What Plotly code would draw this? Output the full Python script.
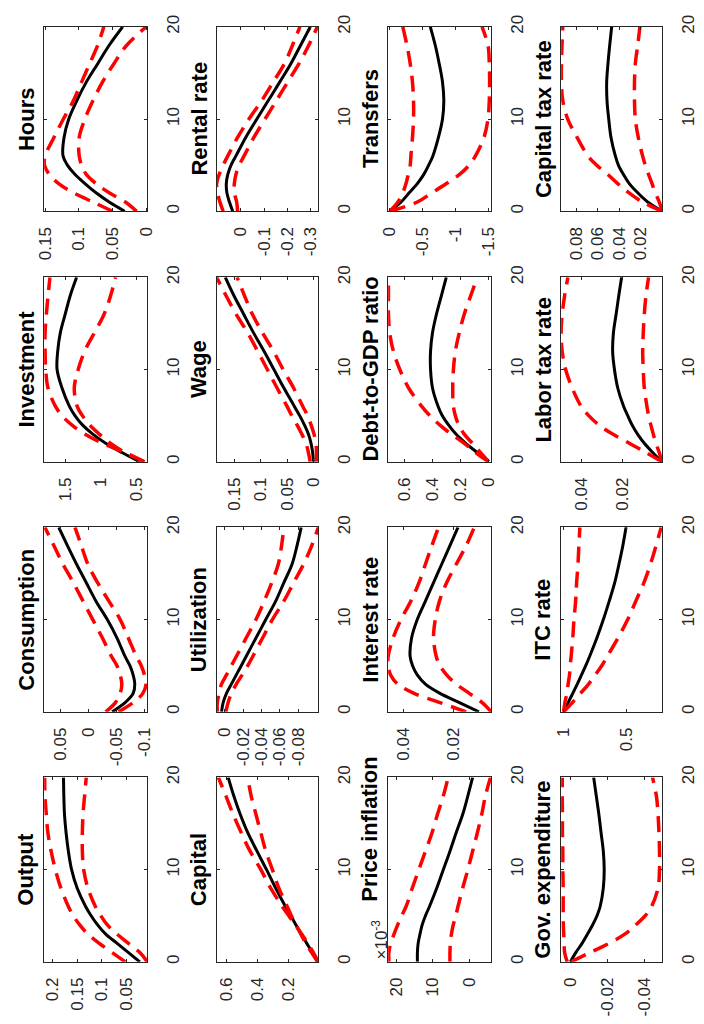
import plotly.graph_objects as go

W, HGT = 704, 1024
H = [0, 1, 2, 3, 4, 5, 6, 8, 10, 12, 14, 16, 18, 20]

hours_med = [0.032, 0.055, 0.0745, 0.091, 0.106, 0.117, 0.1235, 0.122, 0.115, 0.103, 0.089, 0.072, 0.055, 0.035]
hours_hi = [0.050, 0.079, 0.108, 0.130, 0.144, 0.151, 0.150, 0.137, 0.123, 0.108, 0.096, 0.084, 0.072, 0.063]
hours_lo = [0.0144, 0.031, 0.055, 0.0745, 0.089, 0.096, 0.0995, 0.0995, 0.091, 0.079, 0.065, 0.048, 0.029, 0.0]

rent_med = [0.035, 0.049, 0.060, 0.0625, 0.056, 0.042, 0.021, -0.021, -0.069, -0.118, -0.167, -0.215, -0.257, -0.299]
rent_hi = [0.076, 0.090, 0.100, 0.104, 0.093, 0.076, 0.056, 0.014, -0.035, -0.090, -0.139, -0.1875, -0.222, -0.254]
rent_lo = [0.014, 0.018, 0.028, 0.028, 0.021, 0.007, -0.014, -0.056, -0.104, -0.153, -0.201, -0.250, -0.292, -0.329]

trans_med = [0, -0.172, -0.295, -0.418, -0.516, -0.59, -0.654, -0.738, -0.80, -0.82, -0.80, -0.75, -0.69, -0.615]
trans_hi = [0, -0.123, -0.197, -0.246, -0.28, -0.31, -0.32, -0.344, -0.36, -0.36, -0.344, -0.31, -0.26, -0.197]
trans_lo = [0, -0.418, -0.64, -0.86, -1.06, -1.205, -1.30, -1.43, -1.49, -1.51, -1.515, -1.51, -1.49, -1.40]

ktax_med = [0.0005, 0.0138, 0.023, 0.0308, 0.0363, 0.0409, 0.0437, 0.0477, 0.0498, 0.0514, 0.0517, 0.0505, 0.0489, 0.0471]
ktax_hi = [0.0005, 0.0185, 0.031, 0.0415, 0.0508, 0.061, 0.069, 0.079, 0.0877, 0.0923, 0.0935, 0.0935, 0.093, 0.0923]
ktax_lo = [0.0005, 0.0031, 0.0068, 0.0098, 0.013, 0.016, 0.0185, 0.0225, 0.0252, 0.026, 0.026, 0.0252, 0.023, 0.021]

inv_med = [0.455, 0.705, 0.932, 1.114, 1.259, 1.364, 1.441, 1.545, 1.614, 1.605, 1.568, 1.5, 1.43, 1.34]
inv_hi = [0.39, 0.66, 0.977, 1.227, 1.409, 1.545, 1.636, 1.741, 1.773, 1.782, 1.782, 1.764, 1.741, 1.714]
inv_lo = [0.39, 0.659, 0.864, 1.023, 1.159, 1.259, 1.332, 1.373, 1.318, 1.227, 1.09, 0.955, 0.864, 0.795]

wage_med = [0, 0.0013, 0.0044, 0.0094, 0.017, 0.026, 0.036, 0.056, 0.075, 0.094, 0.114, 0.1325, 0.151, 0.1675]
wage_hi = [0.006, 0.0094, 0.014, 0.022, 0.031, 0.041, 0.05, 0.069, 0.0875, 0.106, 0.125, 0.147, 0.166, 0.184]
wage_lo = [-0.006, -0.006, -0.005, -0.0013, 0.0044, 0.011, 0.02, 0.0375, 0.0575, 0.076, 0.097, 0.116, 0.131, 0.145]

debt_med = [0, 0.081, 0.163, 0.233, 0.286, 0.33, 0.36, 0.40, 0.414, 0.414, 0.40, 0.372, 0.337, 0.302]
debt_hi = [0, 0.093, 0.174, 0.267, 0.349, 0.419, 0.477, 0.57, 0.633, 0.679, 0.705, 0.714, 0.714, 0.714]
debt_lo = [0, 0.058, 0.116, 0.174, 0.214, 0.237, 0.251, 0.256, 0.251, 0.237, 0.209, 0.174, 0.128, 0.081]

ltax_med = [0.0005, 0.005, 0.0091, 0.0124, 0.0151, 0.0172, 0.0192, 0.0221, 0.0237, 0.0246, 0.0242, 0.0229, 0.0216, 0.0202]
ltax_hi = [0.0005, 0.0083, 0.0164, 0.0246, 0.0314, 0.0363, 0.040, 0.0444, 0.0476, 0.0493, 0.0498, 0.0493, 0.0481, 0.0465]
ltax_lo = [0.0005, 0.0018, 0.0034, 0.0047, 0.0059, 0.007, 0.0078, 0.0091, 0.0096, 0.0099, 0.0096, 0.0091, 0.0083, 0.007]

cons_med = [-0.0423, -0.0654, -0.0798, -0.0827, -0.0798, -0.074, -0.0654, -0.051, -0.0337, -0.0135, 0.0038, 0.0211, 0.0373, 0.0529]
cons_hi = [-0.0308, -0.0481, -0.0567, -0.0596, -0.0567, -0.051, -0.0412, -0.025, -0.0077, 0.0096, 0.0269, 0.0454, 0.0615, 0.0777]
cons_lo = [-0.0539, -0.0798, -0.0971, -0.1029, -0.10, -0.0943, -0.0856, -0.0712, -0.0567, -0.0365, -0.0164, 0.001, 0.0125, 0.024]

util_med = [0.0036, 0.0018, -0.0018, -0.0071, -0.0125, -0.0179, -0.0232, -0.0339, -0.0446, -0.0554, -0.0643, -0.0732, -0.0786, -0.0832]
util_hi = [0.0082, 0.0082, 0.0061, 0.0036, -0.0018, -0.0071, -0.0125, -0.0232, -0.0339, -0.0429, -0.0511, -0.0582, -0.0618, -0.0643]
util_lo = [-0.0011, -0.0036, -0.0071, -0.0125, -0.0189, -0.025, -0.0304, -0.0411, -0.0518, -0.0643, -0.075, -0.0857, -0.0946, -0.1018]

rate_med = [0.0095, 0.0174, 0.0253, 0.0312, 0.0345, 0.0364, 0.0374, 0.0368, 0.0345, 0.0312, 0.0279, 0.0246, 0.0213, 0.018]
rate_hi = [0.0147, 0.0253, 0.0358, 0.0424, 0.0453, 0.0463, 0.0463, 0.0443, 0.0411, 0.0371, 0.0338, 0.0312, 0.0286, 0.0259]
rate_lo = [0.0045, 0.0082, 0.0134, 0.0187, 0.0226, 0.0253, 0.0268, 0.0279, 0.0272, 0.0255, 0.0226, 0.0187, 0.0147, 0.0114]

itc_med = [1, 0.964, 0.927, 0.891, 0.857, 0.823, 0.792, 0.734, 0.682, 0.635, 0.591, 0.557, 0.526, 0.5]
itc_hi = [1, 0.99, 0.974, 0.964, 0.953, 0.948, 0.94, 0.927, 0.917, 0.904, 0.896, 0.885, 0.878, 0.87]
itc_lo = [1, 0.93, 0.865, 0.80, 0.747, 0.695, 0.651, 0.565, 0.487, 0.422, 0.357, 0.305, 0.26, 0.219]

out_med = [0.0239, 0.0467, 0.0695, 0.0924, 0.1087, 0.1217, 0.1328, 0.1498, 0.1609, 0.1674, 0.172, 0.1752, 0.1765, 0.1772]
out_hi = [0.0532, 0.0793, 0.1054, 0.1282, 0.1446, 0.1576, 0.1674, 0.1824, 0.1935, 0.202, 0.2085, 0.2117, 0.2144, 0.215]
out_lo = [0.0089, 0.0239, 0.0467, 0.0695, 0.0891, 0.1022, 0.1132, 0.1282, 0.1367, 0.1393, 0.1393, 0.138, 0.1348, 0.1315]

cap_med = [0.0085, 0.0426, 0.0787, 0.115, 0.149, 0.183, 0.217, 0.281, 0.34, 0.402, 0.462, 0.511, 0.553, 0.589]
cap_hi = [0.004, 0.036, 0.072, 0.111, 0.153, 0.196, 0.238, 0.313, 0.377, 0.447, 0.504, 0.557, 0.604, 0.653]
cap_lo = [0.0085, 0.047, 0.085, 0.117, 0.149, 0.179, 0.206, 0.26, 0.302, 0.345, 0.377, 0.409, 0.44, 0.462]

infl_med = [14.2, 14.2, 14.0, 13.5, 12.9, 12.0, 10.9, 8.9, 7.1, 5.3, 3.6, 1.8, 0.4, -0.9]
infl_hi = [22.0, 22.0, 21.5, 20.6, 19.6, 18.5, 17.3, 15.6, 13.8, 12.0, 10.2, 8.7, 7.1, 5.8]
infl_lo = [5.3, 5.3, 5.2, 4.9, 4.4, 3.7, 3.1, 1.8, 0.4, -0.9, -2.2, -3.4, -4.4, -5.8]

gov_med = [0, -0.0029, -0.0063, -0.0092, -0.012, -0.0144, -0.0161, -0.0178, -0.0183, -0.0178, -0.0166, -0.0154, -0.014, -0.0126]
gov_hi = [0.0017, 0.0031, 0.0034, 0.0036, 0.0038, 0.0039, 0.0039, 0.0039, 0.0041, 0.0041, 0.0043, 0.0043, 0.0044, 0.0044]
gov_lo = [-0.0003, -0.0106, -0.0209, -0.0294, -0.0354, -0.0405, -0.0439, -0.0474, -0.0482, -0.0482, -0.0479, -0.0474, -0.0465, -0.0444]

# (title, median, upper, lower, value range (reversed), tick values, tick labels, row, col)
panels = [
    ("Hours", hours_med, hours_hi, hours_lo, [0.1515, -0.0015], [0, 0.05, 0.1, 0.15], ["0", "0.05", "0.1", "0.15"], 0, 0),
    ("Rental rate", rent_med, rent_hi, rent_lo, [0.104, -0.333], [0, -0.1, -0.2, -0.3], ["0", "-0.1", "-0.2", "-0.3"], 0, 1),
    ("Transfers", trans_med, trans_hi, trans_lo, [0.025, -1.54], [0, -0.5, -1, -1.5], ["0", "-0.5", "-1", "-1.5"], 0, 2),
    ("Capital tax rate", ktax_med, ktax_hi, ktax_lo, [0.0938, 0.0003], [0.02, 0.04, 0.06, 0.08], ["0.02", "0.04", "0.06", "0.08"], 0, 3),
    ("Investment", inv_med, inv_hi, inv_lo, [1.795, 0.35], [0.5, 1, 1.5], ["0.5", "1", "1.5"], 1, 0),
    ("Wage", wage_med, wage_hi, wage_lo, [0.184, -0.0094], [0, 0.05, 0.1, 0.15], ["0", "0.05", "0.1", "0.15"], 1, 1),
    ("Debt-to-GDP ratio", debt_med, debt_hi, debt_lo, [0.716, -0.0186], [0, 0.2, 0.4, 0.6], ["0", "0.2", "0.4", "0.6"], 1, 2),
    ("Labor tax rate", ltax_med, ltax_hi, ltax_lo, [0.0498, 0.0003], [0.02, 0.04], ["0.02", "0.04"], 1, 3),
    ("Consumption", cons_med, cons_hi, cons_lo, [0.079, -0.105], [-0.1, -0.05, 0, 0.05], ["-0.1", "-0.05", "0", "0.05"], 2, 0),
    ("Utilization", util_med, util_hi, util_lo, [0.0089, -0.1018], [0, -0.02, -0.04, -0.06, -0.08], ["0", "-0.02", "-0.04", "-0.06", "-0.08"], 2, 1),
    ("Interest rate", rate_med, rate_hi, rate_lo, [0.0463, 0.0045], [0.02, 0.04], ["0.02", "0.04"], 2, 2),
    ("ITC rate", itc_med, itc_hi, itc_lo, [1.02, 0.21], [0.5, 1], ["0.5", "1"], 2, 3),
    ("Output", out_med, out_hi, out_lo, [0.216, 0.009], [0.05, 0.1, 0.15, 0.2], ["0.05", "0.1", "0.15", "0.2"], 3, 0),
    ("Capital", cap_med, cap_hi, cap_lo, [0.664, 0.004], [0.2, 0.4, 0.6], ["0.2", "0.4", "0.6"], 3, 1),
    ("Price inflation", infl_med, infl_hi, infl_lo, [22.2, -6.0], [0, 10, 20], ["0", "10", "20"], 3, 2),
    ("Gov. expenditure", gov_med, gov_hi, gov_lo, [0.005, -0.0497], [-0.04, -0.02, 0], ["-0.04", "-0.02", "0"], 3, 3),
]

col_left = [37.0, 213.5, 389.0, 566.0]
col_w = [105.5, 104.0, 105.5, 103.5]
row_top = [15.0, 269.0, 522.5, 776.0]
row_h = 187.0

FONT = "Liberation Sans, Arial, Helvetica, sans-serif"
AX = "#262626"
TICK_SIZE = 17

fig = go.Figure()
annotations = []
layout = {}
for i, (title, med, hi, lo, rng, tv, tt, r, c) in enumerate(panels):
    n = i + 1
    xs = "" if n == 1 else str(n)
    x0 = col_left[c] / W
    x1 = (col_left[c] + col_w[c]) / W
    y1 = 1 - row_top[r] / HGT
    y0 = 1 - (row_top[r] + row_h) / HGT
    fig.add_trace(go.Scatter(x=med, y=H, mode="lines", line=dict(color="black", width=3, shape="spline"),
                             xaxis="x" + xs, yaxis="y" + xs, showlegend=False, hoverinfo="skip"))
    for band in (hi, lo):
        fig.add_trace(go.Scatter(x=band, y=H, mode="lines",
                                 line=dict(color="#ff0000", width=3.5, dash="16px,9px", shape="spline"),
                                 xaxis="x" + xs, yaxis="y" + xs, showlegend=False, hoverinfo="skip"))
    layout["xaxis" + xs] = dict(domain=[x0, x1], range=rng, anchor="y" + xs, tickmode="array",
                                tickvals=tv, ticktext=tt, tickangle=-90, ticks="inside", ticklen=3,
                                tickcolor=AX, showline=True, linecolor=AX, linewidth=1, mirror="allticks",
                                showgrid=False, zeroline=False, ticklabelstandoff=8,
                                tickfont=dict(family=FONT, size=TICK_SIZE, color=AX))
    layout["yaxis" + xs] = dict(domain=[y0, y1], range=[0, 20], anchor="x" + xs, side="right",
                                tickmode="array", tickvals=[0, 10, 20], ticktext=["0", "10", "20"],
                                tickangle=-90, ticks="inside", ticklen=3, tickcolor=AX,
                                showline=True, linecolor=AX, linewidth=1, mirror="allticks",
                                showgrid=False, zeroline=False, ticklabelstandoff=10,
                                tickfont=dict(family=FONT, size=TICK_SIZE, color=AX))
    ty = row_top[r] + row_h / 2
    if title == "Price inflation":
        ty = 829
    annotations.append(dict(text="<b>" + title + "</b>", x=(col_left[c] - 18.5) / W, y=1 - ty / HGT,
                            xref="paper", yref="paper", textangle=-90, showarrow=False,
                            xanchor="center", yanchor="middle",
                            font=dict(family=FONT, size=22, color="black")))
    if title == "Price inflation":
        annotations.append(dict(text="\u00d710<sup>-3</sup>", x=(col_left[c] - 8) / W, y=1 - 940 / HGT,
                                xref="paper", yref="paper", textangle=-90, showarrow=False,
                                xanchor="center", yanchor="middle",
                                font=dict(family=FONT, size=17, color=AX)))

fig.update_layout(width=W, height=HGT, margin=dict(l=0, r=0, t=0, b=0),
                  paper_bgcolor="white", plot_bgcolor="white", annotations=annotations,
                  hovermode=False, **layout)
fig.write_html("out.html", config={"displayModeBar": False, "staticPlot": True},
               post_script="document.body.style.margin='0';document.body.style.overflow='hidden';")
